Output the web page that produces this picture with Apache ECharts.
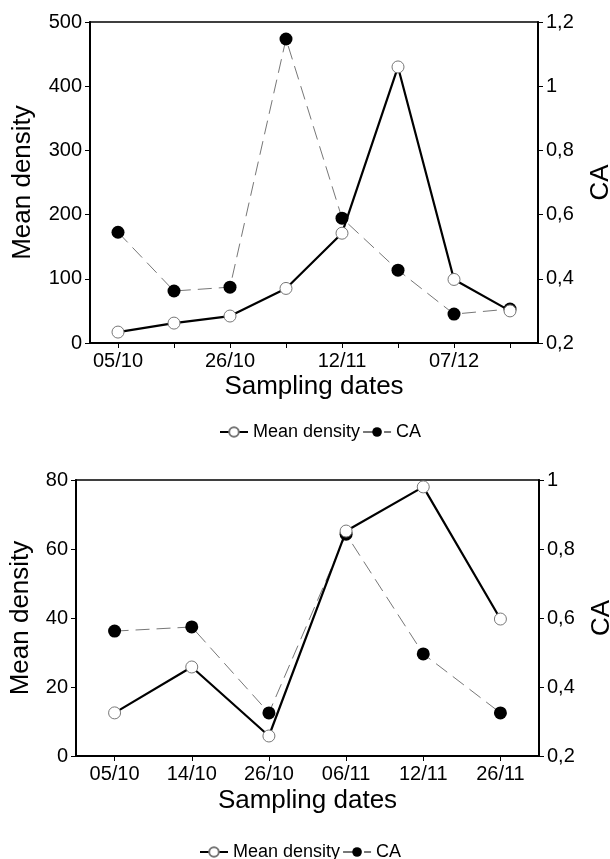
<!DOCTYPE html>
<html><head><meta charset="utf-8">
<script src="https://cdn.jsdelivr.net/npm/echarts@6/dist/echarts.min.js"></script>
<style>html,body{margin:0;padding:0;background:#fff}#c{width:610px;height:859px}</style>
</head><body><div id="c"></div>
<script>
const datesTop = ['05/10','14/10','26/10','06/11','12/11','26/11','07/12','14/12'];
const densityTop = [17, 31, 42, 85, 171, 430, 99, 50];
const caTop = [0.545, 0.362, 0.374, 1.147, 0.589, 0.427, 0.29, 0.306];
const datesBottom = ['05/10','14/10','26/10','06/11','12/11','26/11'];
const densityBottom = [12.5, 25.8, 5.8, 65.2, 78, 39.7];
const caBottom = [0.562, 0.574, 0.325, 0.843, 0.496, 0.325];
const leftTicksTop = [0, 500, 100];
const rightTicksTop = [0.2, 1.2, 0.2];
const leftTicksBottom = [0, 80, 20];
const rightTicksBottom = [0.2, 1, 0.2];

const F = 'Liberation Sans, Arial, sans-serif';
const fmt = v => (Math.round(v*10)/10).toString().replace('.', ',');
const axisLine = {show:true, lineStyle:{color:'#000', width:2}};
const tick = {show:true, inside:false, length:5, lineStyle:{color:'#000', width:1}};
const lbl = {color:'#000', fontFamily:F, fontSize:20, margin:8};
const nameStyle = {color:'#000', fontFamily:F, fontSize:26};

function yAxis(gi, ticks, pos, name, gap, isCA) {
  return {type:'value', gridIndex:gi, position:pos, min:ticks[0], max:ticks[1], interval:ticks[2],
    name:name, nameLocation:'middle', nameGap:gap, nameTextStyle:nameStyle, nameRotate:90,
    axisLine:axisLine, axisTick:tick, splitLine:{show:false},
    axisLabel:Object.assign({}, lbl, isCA ? {formatter: fmt} : {})};
}
function xAxis(gi, data, labelInterval, gap) {
  return {type:'category', gridIndex:gi, data:data, boundaryGap:true,
    name:'Sampling dates', nameLocation:'middle', nameGap:gap, nameTextStyle:nameStyle,
    axisLine:axisLine, axisTick:Object.assign({}, tick, {alignWithLabel:true, interval:0}),
    axisLabel:Object.assign({}, lbl, {interval:labelInterval, margin:8}), splitLine:{show:false}};
}
const densStyle = {type:'line', symbol:'circle', symbolSize:12, showSymbol:true,
  itemStyle:{color:'#fff', borderColor:'#777', borderWidth:1},
  lineStyle:{color:'#000', width:2.2}, z:3};
const caStyle = {type:'line', symbol:'circle', symbolSize:13,
  itemStyle:{color:'#000', borderColor:'#000', borderWidth:0},
  lineStyle:{color:'#777', width:1, type:[14,7]}, z:2};
const legendText = {color:'#000', fontFamily:F, fontSize:18};

const option = {
  animation:false,
  backgroundColor:'#fff',
  grid:[
    {left:90, right:72, top:22, height:321, show:true, borderColor:'#000', borderWidth:1.5, backgroundColor:'transparent', outerBoundsMode:'none', containLabel:false},
    {left:76, right:71, top:480, height:276, show:true, borderColor:'#000', borderWidth:1.5, backgroundColor:'transparent', outerBoundsMode:'none', containLabel:false}
  ],
  xAxis:[xAxis(0, datesTop, 1, 31), xAxis(1, datesBottom, 0, 32)],
  yAxis:[
    yAxis(0, leftTicksTop, 'left', 'Mean density', 54, false),
    yAxis(0, rightTicksTop, 'right', 'CA', 50, true),
    yAxis(1, leftTicksBottom, 'left', 'Mean density', 42, false),
    yAxis(1, rightTicksBottom, 'right', 'CA', 50, true)
  ],
  legend:[
    {top:418, left:214, itemGap:2, itemWidth:28, itemHeight:12, padding:[5,5], textStyle:legendText,
     data:['Mean density','CA']},
    {top:838, left:194, itemGap:2, itemWidth:28, itemHeight:12, padding:[5,5], textStyle:legendText,
     data:['Mean density','CA']}
  ],
  series:[
    Object.assign({name:'Mean density', xAxisIndex:0, yAxisIndex:0, data:densityTop}, densStyle),
    Object.assign({name:'CA', xAxisIndex:0, yAxisIndex:1, data:caTop}, caStyle),
    Object.assign({name:'Mean density', xAxisIndex:1, yAxisIndex:2, data:densityBottom}, densStyle),
    Object.assign({name:'CA', xAxisIndex:1, yAxisIndex:3, data:caBottom}, caStyle)
  ]
};
const chart = echarts.init(document.getElementById('c'), null, {renderer:'canvas'});
chart.setOption(option);
</script></body></html>
